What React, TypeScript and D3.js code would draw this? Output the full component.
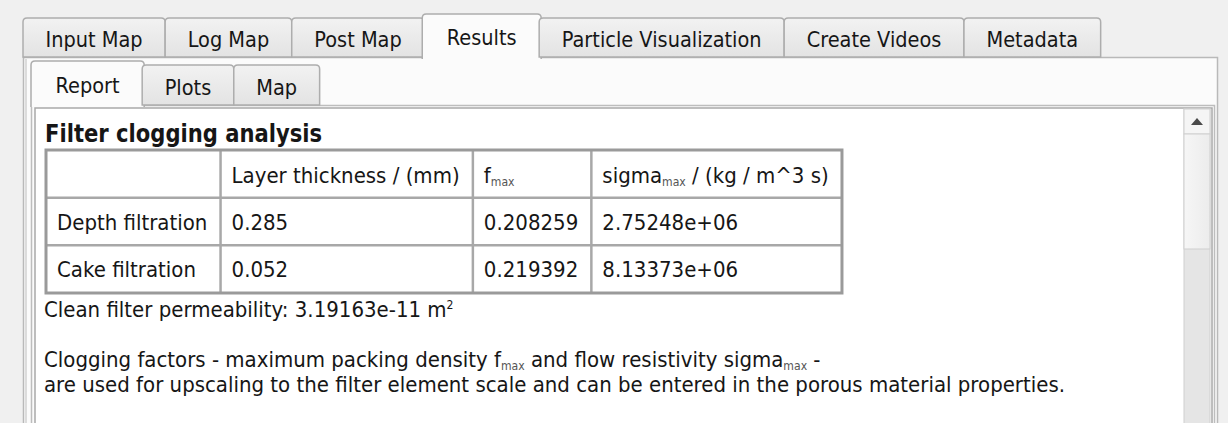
import { useEffect, useRef } from 'react';
import * as d3 from 'd3';

const outerTabs = ['Input Map', 'Log Map', 'Post Map', 'Results', 'Particle Visualization', 'Create Videos', 'Metadata'];
const outerSelected = 'Results';
const innerTabs = ['Report', 'Plots', 'Map'];
const innerSelected = 'Report';

const reportTitle = 'Filter clogging analysis';
const rowLabels = ['Depth filtration', 'Cake filtration'];
const layerThickness = ['0.285', '0.052'];
const fMax = ['0.208259', '0.219392'];
const sigmaMax = ['2.75248e+06', '8.13373e+06'];
const permeability = '3.19163e-11';

type Run = { text: string; sub?: boolean; sup?: boolean };

const headerRuns: Run[][] = [
  [{ text: '' }],
  [{ text: 'Layer thickness / (mm)' }],
  [{ text: 'f' }, { text: 'max', sub: true }],
  [{ text: 'sigma' }, { text: 'max', sub: true }, { text: ' / (kg / m^3 s)' }],
];

const noteLines: Run[][] = [
  [{ text: `Clean filter permeability: ${permeability} m` }, { text: '2', sup: true }],
  [],
  [{ text: 'Clogging factors - maximum packing density f' }, { text: 'max', sub: true }, { text: ' and flow resistivity sigma' }, { text: 'max', sub: true }, { text: ' -' }],
  [{ text: 'are used for upscaling to the filter element scale and can be entered in the porous material properties.' }],
];

const W = 1228;
const H = 423;
const FONT = '"DejaVu Sans", Verdana, sans-serif';
const INK = '#161616';

type G = d3.Selection<SVGGElement, unknown, null, undefined>;

// one line of rich text, squeezed horizontally so DejaVu gets Tahoma-ish widths
function rich(g: G, runs: Run[], squeeze: number, size = 22, weight = 'normal') {
  const holder = g.append('g');
  const t = holder.append('text')
    .attr('font-family', FONT)
    .attr('font-size', size)
    .attr('font-weight', weight)
    .attr('fill', INK)
    .style('white-space', 'pre');
  let prev = 0;
  runs.forEach((r) => {
    const shift = r.sub ? 3 : r.sup ? -8 : 0;
    t.append('tspan')
      .attr('dy', shift - prev)
      .attr('font-size', r.sub || r.sup ? size * 0.55 : size)
      .attr('fill', r.sub ? '#555' : INK)
      .text(r.text);
    prev = shift;
  });
  const natural = (t.node() as SVGTextElement).getComputedTextLength();
  const w = natural * squeeze;
  const place = (x: number, y: number) => {
    holder.attr('transform', `translate(${x},${y}) scale(${squeeze},1)`);
  };
  return { holder, w, place };
}

function tabPath(x0: number, x1: number, top: number, bottom: number, r = 4) {
  return `M${x0},${bottom} V${top + r} Q${x0},${top} ${x0 + r},${top} H${x1 - r} Q${x1},${top} ${x1},${top + r} V${bottom}`;
}

function drawTabs(g: G, labels: string[], selected: string, x0: number, top: number, bottom: number, labelBase: number) {
  const pad = 45;
  const shapes = g.append('g');
  const labelsG = g.append('g');
  const items = labels.map((l) => {
    const txt = rich(labelsG, [{ text: l }], 0.88);
    return { l, txt, w: txt.w + pad };
  });
  let x = x0;
  items.forEach((d) => {
    const sel = d.l === selected;
    const a = sel ? x - 2 : x;
    const b = sel ? x + d.w + 2 : x + d.w;
    const tp = sel ? top - 4 : top;
    const path = shapes.append('path')
      .attr('d', tabPath(a, b, tp, sel ? bottom + 2 : bottom) + (sel ? '' : ' Z'))
      .attr('fill', sel ? '#fbfbfb' : 'url(#tabGrad)')
      .attr('stroke', '#adadad')
      .attr('stroke-width', 1.5);
    if (sel) path.raise();
    d.txt.place(x + pad / 2, sel ? labelBase - 2 : labelBase);
    x += d.w;
  });
}

export default function App() {
  const ref = useRef<SVGSVGElement>(null);

  useEffect(() => {
    if (!ref.current) return;
    const svg = d3.select(ref.current);
    svg.selectAll('*').remove();

    const defs = svg.append('defs');
    const grad = defs.append('linearGradient').attr('id', 'tabGrad').attr('x1', 0).attr('y1', 0).attr('x2', 0).attr('y2', 1);
    grad.append('stop').attr('offset', 0).attr('stop-color', '#f2f2f2');
    grad.append('stop').attr('offset', 1).attr('stop-color', '#e3e3e3');
    const hGrad = defs.append('linearGradient').attr('id', 'handleGrad').attr('x1', 0).attr('y1', 0).attr('x2', 1).attr('y2', 0);
    hGrad.append('stop').attr('offset', 0).attr('stop-color', '#f6f6f6');
    hGrad.append('stop').attr('offset', 1).attr('stop-color', '#ececec');

    svg.append('rect').attr('width', W).attr('height', H).attr('fill', '#f0f0f0');

    // outer tab widget
    const outer = svg.append('g');
    outer.append('rect').attr('x', 23.5).attr('y', 57.5).attr('width', 1194).attr('height', H)
      .attr('fill', '#fbfbfb').attr('stroke', '#b9b9b9').attr('stroke-width', 1.5);
    outer.append('line').attr('x1', 26).attr('x2', 26).attr('y1', 59).attr('y2', H).attr('stroke', '#dcdcdc').attr('stroke-width', 2);
    drawTabs(svg.append('g'), outerTabs, outerSelected, 23, 18, 57, 47);

    // inner tab widget
    const inner = svg.append('g');
    inner.append('rect').attr('x', 31.5).attr('y', 105.5).attr('width', 1183).attr('height', H)
      .attr('fill', '#fbfbfb').attr('stroke', '#bdbdbd').attr('stroke-width', 1.5);
    drawTabs(svg.append('g'), innerTabs, innerSelected, 33, 65, 105, 95);

    // report text browser
    const doc = svg.append('g');
    doc.append('rect').attr('x', 35).attr('y', 108).attr('width', 1177).attr('height', H)
      .attr('fill', '#ffffff').attr('stroke', '#a9a9a9').attr('stroke-width', 1.5);

    // scrollbar
    const sb = doc.append('g');
    const sbX = 1184;
    const sbW = 26;
    sb.append('rect').attr('x', sbX).attr('y', 109).attr('width', sbW).attr('height', H).attr('fill', '#e5e5e5').attr('stroke', '#cfcfcf');
    sb.append('rect').attr('x', sbX).attr('y', 109).attr('width', sbW).attr('height', 25).attr('fill', '#f5f5f5').attr('stroke', '#cfcfcf');
    sb.append('rect').attr('x', sbX).attr('y', 134).attr('width', sbW).attr('height', 115).attr('fill', 'url(#handleGrad)').attr('stroke', '#cfcfcf');
    sb.append('path').attr('d', `M${sbX + sbW / 2 - 6},125 L${sbX + sbW / 2 + 6},125 L${sbX + sbW / 2},118 Z`).attr('fill', '#4a4a4a');

    const left = 45;
    const body = 0.9;
    rich(doc, [{ text: reportTitle }], 0.88, 24, 'bold').place(left, 142);

    // table: columns sized by their content, rows on a band scale
    const cellPad = 12;
    const columns = [rowLabels, layerThickness, fMax, sigmaMax];
    const tableG = doc.append('g');
    const textG = doc.append('g');
    const colTexts = columns.map((vals, ci) => ({
      head: rich(textG, headerRuns[ci], body),
      cells: vals.map((v) => rich(textG, [{ text: v }], body)),
    }));
    const colWidths = colTexts.map((c) => d3.max([c.head.w, ...c.cells.map((b) => b.w)])! + cellPad * 2);
    const colEdges = [left + 1];
    colWidths.forEach((w) => colEdges.push(colEdges[colEdges.length - 1] + w));
    const rowKeys = ['header', ...rowLabels];
    const y = d3.scaleBand().domain(rowKeys).range([150, 293]);

    colTexts.forEach((c, ci) => {
      const tx = colEdges[ci] + cellPad - 1;
      c.head.place(tx, y('header')! + 33);
      c.cells.forEach((b, ri) => b.place(tx, y(rowLabels[ri])! + 32));
    });

    const x0 = colEdges[0];
    const x1 = colEdges[colEdges.length - 1];
    rowKeys.slice(1).forEach((k) => {
      tableG.append('line').attr('x1', x0).attr('x2', x1).attr('y1', y(k)!).attr('y2', y(k)!).attr('stroke', '#a8a8a8').attr('stroke-width', 2.5);
    });
    colEdges.slice(1, -1).forEach((cx) => {
      tableG.append('line').attr('x1', cx).attr('x2', cx).attr('y1', 150).attr('y2', 293).attr('stroke', '#a8a8a8').attr('stroke-width', 2.5);
    });
    tableG.append('rect').attr('x', x0).attr('y', 150).attr('width', x1 - x0).attr('height', 293 - 150)
      .attr('fill', 'none').attr('stroke', '#9a9a9a').attr('stroke-width', 3);

    // notes under the table
    const lineY = d3.scaleLinear().domain([0, 1]).range([317, 342]);
    noteLines.forEach((runs, i) => {
      if (!runs.length) return;
      rich(doc, runs, body).place(left - 1, lineY(i));
    });
  }, []);

  return (
    <svg
      ref={ref}
      width={W}
      height={H}
      style={{ position: 'fixed', left: 0, top: 0, display: 'block' }}
    />
  );
}
